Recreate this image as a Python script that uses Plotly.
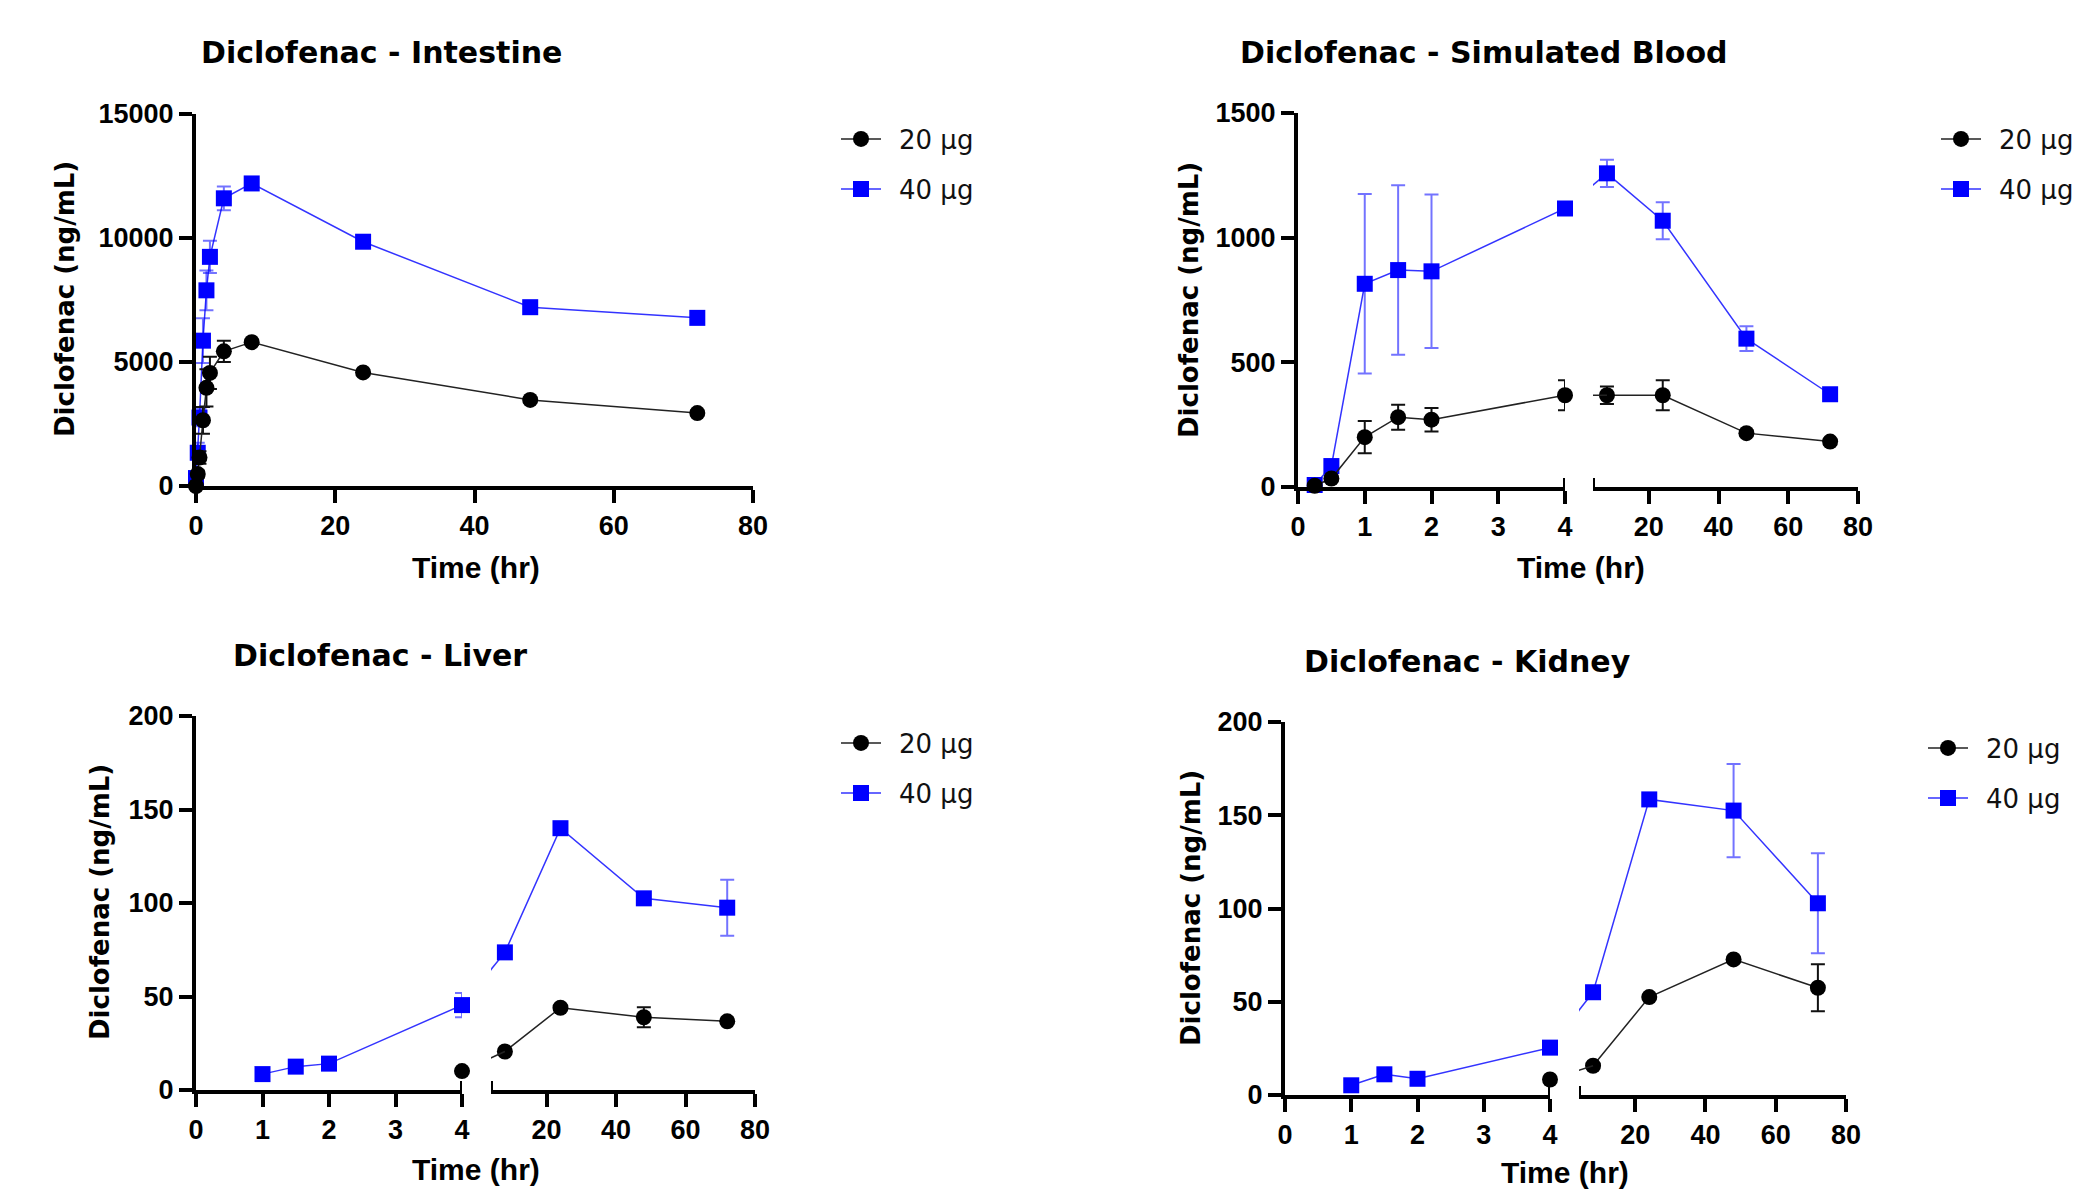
import plotly.graph_objects as go

W, H = 2076, 1190

# ---------------- data ----------------
BREAK_AT = 4  # hr, end of the first x segment in broken-axis panels

t_intestine = [0, 0.25, 0.5, 1, 1.5, 2, 4, 8, 24, 48, 72]
intestine_20 = [0, 480, 1150, 2650, 3960, 4560, 5430, 5800, 4580, 3470, 2940]
intestine_20_sd = [0, 150, 250, 540, 750, 650, 425, 100, 100, 100, 100]
intestine_40 = [320, 1340, 2760, 5860, 7890, 9240, 11600, 12200, 9850, 7210, 6780]
intestine_40_sd = [100, 400, 350, 900, 800, 650, 480, 120, 120, 120, 120]

t_blood = [0.25, 0.5, 1, 1.5, 2, 4, 8, 24, 48, 72]
blood_20 = [5, 34, 200, 280, 270, 368, 368, 368, 216, 182]
blood_20_sd = [3, 8, 65, 50, 47, 60, 35, 60, 12, 12]
blood_40 = [8, 84, 815, 870, 865, 1117, 1258, 1068, 595, 372]
blood_40_sd = [4, 15, 360, 340, 308, 20, 55, 74, 50, 12]

t_organ = [1, 1.5, 2, 4, 8, 24, 48, 72]
liver_20 = [None, None, None, 10.1, 20.6, 44, 38.9, 36.7]
liver_20_sd = [0, 0, 0, 1, 1, 1, 5.3, 1]
liver_40 = [8.5, 12.5, 14.1, 45.4, 73.6, 140, 102.5, 97.5]
liver_40_sd = [1, 1, 1, 6.5, 2, 2, 2, 15]

kidney_20 = [None, None, None, 8.3, 15.7, 52.5, 72.7, 57.5]
kidney_20_sd = [0, 0, 0, 1, 1, 1, 1, 12.6]
kidney_40 = [5.2, 11.1, 8.7, 25.4, 55.1, 158.5, 152.5, 102.8]
kidney_40_sd = [1, 1, 1, 1, 2, 3, 25, 26.8]

series_names = ["20 µg", "40 µg"]
titles = ["Diclofenac - Intestine", "Diclofenac - Simulated Blood",
          "Diclofenac - Liver", "Diclofenac - Kidney"]
y_title = "Diclofenac (ng/mL)"
x_title = "Time (hr)"
seg1_ticks = [0, 1, 2, 3, 4]
seg2_ticks = [20, 40, 60, 80]
intestine_xticks = [0, 20, 40, 60, 80]

# ---------------- styling ----------------
TICK_FONT = dict(family="Liberation Sans, Arial, sans-serif", size=27, color="black", weight="bold")
TITLE_FONT = dict(family="DejaVu Sans, Arial, sans-serif", size=30, color="black", weight="bold")
YT_FONT = dict(family="DejaVu Sans, Arial, sans-serif", size=26, color="black", weight="bold")
XT_FONT = dict(family="Liberation Sans, Arial, sans-serif", size=30, color="black", weight="bold")
LEG_FONT = dict(family="DejaVu Sans, Arial, sans-serif", size=26, color="#111")

STYLE = {
    0: dict(marker=dict(symbol="circle", size=16, color="black", line=dict(width=0)),
            line=dict(color="#222222", width=1.5), err="#111111"),
    1: dict(marker=dict(symbol="square", size=16, color="#0000ff", line=dict(width=0)),
            line=dict(color="rgba(0,0,255,0.8)", width=1.5), err="rgba(0,0,255,0.55)"),
}


def px_x(p):
    return p / W


def px_y(p):
    return 1 - p / H


def x_axis(dom, rng, ticks, anchor):
    return dict(domain=[px_x(dom[0]), px_x(dom[1])], range=rng, tickvals=ticks,
                ticktext=[str(v) for v in ticks], showline=True, linewidth=4,
                linecolor="black", ticks="outside", ticklen=13, tickwidth=4,
                tickcolor="black", showgrid=False, zeroline=False, tickfont=TICK_FONT,
                anchor=anchor, fixedrange=True)


def y_axis(dom, rng, dtick, anchor):
    return dict(domain=[px_y(dom[1]), px_y(dom[0])], range=rng, dtick=dtick, tick0=0,
                tickformat="d", showline=True, linewidth=4, linecolor="black",
                ticks="outside", ticklen=13, tickwidth=4, tickcolor="black",
                showgrid=False, zeroline=False, tickfont=TICK_FONT, anchor=anchor,
                fixedrange=True)


# panel geometry in pixels
panels = [
    dict(xa="x", xb=None, ya="y", seg1=(196, 753), seg2=None, yd=(114, 486),
         yr=[0, 15000], dt=5000, leg=(861, 139, 189)),
    dict(xa="x2", xb="x3", ya="y2", seg1=(1298, 1565), seg2=(1593, 1858), yd=(113, 487),
         yr=[0, 1500], dt=500, leg=(1961, 139, 189)),
    dict(xa="x4", xb="x5", ya="y3", seg1=(196, 462), seg2=(491, 755), yd=(716, 1090),
         yr=[0, 200], dt=50, leg=(861, 743, 793)),
    dict(xa="x6", xb="x7", ya="y4", seg1=(1285, 1550), seg2=(1579, 1846), yd=(722, 1095),
         yr=[0, 200], dt=50, leg=(1948, 748, 798)),
]

layout = dict(width=W, height=H, paper_bgcolor="white", plot_bgcolor="white",
              margin=dict(l=0, r=0, t=0, b=0, autoexpand=False), showlegend=True)


def axkey(a, kind):
    return kind + "axis" + a[1:]


for p in panels:
    if p["seg2"] is None:
        layout[axkey(p["xa"], "x")] = x_axis(p["seg1"], [0, 80], intestine_xticks, p["ya"])
    else:
        layout[axkey(p["xa"], "x")] = x_axis(p["seg1"], [0, BREAK_AT], seg1_ticks, p["ya"])
        layout[axkey(p["xb"], "x")] = x_axis(p["seg2"], [BREAK_AT, 80], seg2_ticks, p["ya"])
    layout[axkey(p["ya"], "y")] = y_axis(p["yd"], p["yr"], p["dt"], p["xa"])

fig = go.Figure()


def map_to_seg2(x, p):
    """Pixel position of x on segment 1 expressed in segment-2 data units."""
    a0, a1 = p["seg1"]
    b0, b1 = p["seg2"]
    pix = a0 + (x - 0) / (BREAK_AT - 0) * (a1 - a0)
    return BREAK_AT + (pix - b0) / (b1 - b0) * (80 - BREAK_AT)


def leg_name(pi, s):
    return "legend" if (pi == 0 and s == 0) else "legend%d" % (pi * 2 + s + 1)


def add_series(pi, s, t, y, sd):
    p = panels[pi]
    st = STYLE[s]
    leg_id = leg_name(pi, s)
    common = dict(mode="lines+markers", marker=st["marker"], line=st["line"],
                  cliponaxis=False, hoverinfo="skip", name="\u2002" + series_names[s],
                  legend=leg_id, legendgroup=leg_id)

    def err(arr):
        return dict(type="data", array=arr, visible=True, color=st["err"],
                    thickness=2, width=7)

    yname = p["ya"]
    if p["seg2"] is None:
        fig.add_trace(go.Scatter(x=t, y=y, error_y=err(sd), xaxis=p["xa"], yaxis=yname,
                                 showlegend=True, **common))
        return
    i1 = [i for i, v in enumerate(t) if v <= BREAK_AT]
    i2 = [i for i, v in enumerate(t) if v > BREAK_AT]
    fig.add_trace(go.Scatter(x=[t[i] for i in i1], y=[y[i] for i in i1],
                             error_y=err([sd[i] for i in i1]), xaxis=p["xa"], yaxis=yname,
                             showlegend=True, **common))
    fig.add_trace(go.Scatter(x=[t[i] for i in i2], y=[y[i] for i in i2],
                             error_y=err([sd[i] for i in i2]), xaxis=p["xb"], yaxis=yname,
                             showlegend=False, **common))
    # connecting line across the axis break (clipped to segment 2)
    last1 = [i for i in i1 if y[i] is not None][-1]
    first2 = i2[0]
    fig.add_trace(go.Scatter(x=[map_to_seg2(t[last1], p), t[first2]],
                             y=[y[last1], y[first2]], mode="lines", line=st["line"],
                             xaxis=p["xb"], yaxis=yname, showlegend=False,
                             hoverinfo="skip"))


data = [
    (t_intestine, (intestine_20, intestine_20_sd), (intestine_40, intestine_40_sd)),
    (t_blood, (blood_20, blood_20_sd), (blood_40, blood_40_sd)),
    (t_organ, (liver_20, liver_20_sd), (liver_40, liver_40_sd)),
    (t_organ, (kidney_20, kidney_20_sd), (kidney_40, kidney_40_sd)),
]

for pi, (t, s20, s40) in enumerate(data):
    add_series(pi, 1, t, s40[0], s40[1])
    add_series(pi, 0, t, s20[0], s20[1])

# legends (one per entry, positioned like the reference)
for pi, p in enumerate(panels):
    lx, ly0, ly1 = p["leg"]
    for s, ly in enumerate([ly0, ly1]):
        layout[leg_name(pi, s)] = dict(x=px_x(lx - 25), y=px_y(ly), xanchor="left",
                                       yanchor="middle", font=LEG_FONT,
                                       bgcolor="rgba(0,0,0,0)", borderwidth=0,
                                       itemwidth=40, tracegroupgap=0)

# annotations: titles, axis titles
ann = []
title_pos = [(381, 53), (1483, 53), (380, 655), (1467, 661)]
ytitle_pos = [(65, 299), (1189, 300), (100, 902), (1191, 908)]
xtitle_pos = [(476, 567), (1581, 567), (476, 1169), (1565, 1172)]
for i in range(4):
    ann.append(dict(text=titles[i], x=px_x(title_pos[i][0]), y=px_y(title_pos[i][1]),
                    xref="paper", yref="paper", xanchor="center", yanchor="middle",
                    showarrow=False, font=TITLE_FONT))
    ann.append(dict(text=y_title, x=px_x(ytitle_pos[i][0]), y=px_y(ytitle_pos[i][1]),
                    xref="paper", yref="paper", xanchor="center", yanchor="middle",
                    textangle=-90, showarrow=False, font=YT_FONT))
    ann.append(dict(text=x_title, x=px_x(xtitle_pos[i][0]), y=px_y(xtitle_pos[i][1]),
                    xref="paper", yref="paper", xanchor="center", yanchor="middle",
                    showarrow=False, font=XT_FONT))
layout["annotations"] = ann

# axis-break end marks
shapes = []
for p in panels[1:]:
    for xa in (p["xa"], p["xb"]):
        shapes.append(dict(type="line", xref=xa, yref=p["ya"], x0=BREAK_AT, x1=BREAK_AT,
                           ysizemode="pixel", yanchor=0, y0=-13, y1=9,
                           line=dict(color="black", width=4)))
layout["shapes"] = shapes

fig.update_layout(**layout)
fig.write_html("out.html", config={"displayModeBar": False},
               post_script="document.body.style.margin='0';document.body.style.overflow='hidden';")
